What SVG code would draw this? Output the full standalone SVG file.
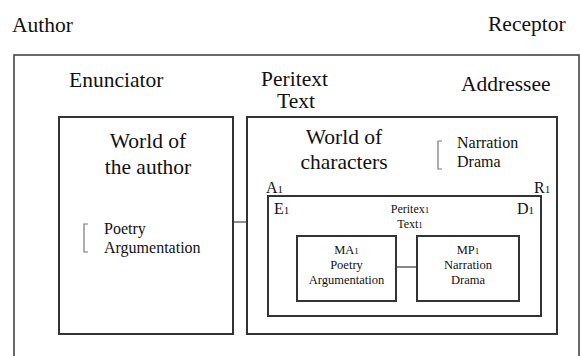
<svg xmlns="http://www.w3.org/2000/svg" width="580" height="356" viewBox="0 0 580 356" font-family="'Liberation Serif', 'Times New Roman', Times, serif">
  <style>
    text { font-family: 'Liberation Serif', 'Times New Roman', Times, serif; fill: #111; }
    .big { font-size: 21.5px; }
    .mid { font-size: 16px; }
    .small { font-size: 12.5px; }
    .tiny { font-size: 12px; }
    .sub { font-size: 11px; }
    .box { fill: none; stroke: #333; stroke-width: 2; }
    .frame { fill: none; stroke: #444; stroke-width: 1.6; }
    .bracket { fill: none; stroke: #777; stroke-width: 1.2; }
    .link { stroke: #444; stroke-width: 1.2; fill: none; }
    .link2 { stroke: #888; stroke-width: 2; fill: none; }
  </style>

  <!-- heading labels outside the frame -->
  <g id="author"><text class="big" x="12" y="32">Author</text></g>
  <g id="receptor"><text class="big" x="488" y="31">Receptor</text></g>

  <!-- outer frame -->
  <g id="frame">
    <rect class="frame" x="14" y="55" width="565" height="320"/>
    <text class="big" x="69" y="87">Enunciator</text>
    <text class="big" x="294.5" y="86" text-anchor="middle">Peritext</text>
    <text class="big" x="296" y="108" text-anchor="middle">Text</text>
    <text class="big" x="461" y="91">Addressee</text>
  </g>

  <!-- connectors -->
  <g id="connectors">
    <line class="link" x1="233" y1="222" x2="247" y2="222"/>
    <line class="link2" x1="396" y1="267" x2="417" y2="267"/>
  </g>

  <!-- world of the author -->
  <g id="world-author">
    <rect class="box" x="59" y="117" width="174" height="217"/>
    <text class="big" x="148" y="148" text-anchor="middle">World of</text>
    <text class="big" x="148" y="174" text-anchor="middle">the author</text>
    <path class="bracket" d="M88,224 H84 V252 H88"/>
    <text class="mid" x="104" y="234">Poetry</text>
    <text class="mid" x="104" y="253">Argumentation</text>
  </g>

  <!-- world of characters -->
  <g id="world-characters">
    <rect class="box" x="247" y="117" width="310" height="217"/>
    <text class="big" x="344" y="144" text-anchor="middle">World of</text>
    <text class="big" x="344" y="169" text-anchor="middle">characters</text>
    <path class="bracket" d="M442,141 H438 V169 H442"/>
    <text class="mid" x="457" y="148">Narration</text>
    <text class="mid" x="457" y="167">Drama</text>
    <text class="mid" x="266" y="193">A<tspan class="sub">1</tspan></text>
    <text class="mid" x="534" y="193">R<tspan class="sub">1</tspan></text>
  </g>

  <!-- peritext 1 -->
  <g id="peritext1">
    <rect class="box" x="268" y="196" width="273" height="120"/>
    <text class="mid" x="274" y="214">E<tspan class="sub">1</tspan></text>
    <text class="mid" x="517" y="214">D<tspan class="sub">1</tspan></text>
    <text class="tiny" x="410" y="213" text-anchor="middle">Peritex<tspan font-size="9">1</tspan></text>
    <text class="tiny" x="410" y="228" text-anchor="middle">Text<tspan font-size="9">1</tspan></text>
  </g>

  <!-- MA1 -->
  <g id="ma1">
    <rect class="box" x="297" y="236" width="99" height="65"/>
    <text class="small" x="346.5" y="254" text-anchor="middle">MA<tspan font-size="9">1</tspan></text>
    <text class="small" x="346.5" y="269" text-anchor="middle">Poetry</text>
    <text class="small" x="346.5" y="284" text-anchor="middle">Argumentation</text>
  </g>

  <!-- MP1 -->
  <g id="mp1">
    <rect class="box" x="417" y="236" width="102" height="65"/>
    <text class="small" x="468" y="254" text-anchor="middle">MP<tspan font-size="9">1</tspan></text>
    <text class="small" x="468" y="269" text-anchor="middle">Narration</text>
    <text class="small" x="468" y="284" text-anchor="middle">Drama</text>
  </g>
</svg>
